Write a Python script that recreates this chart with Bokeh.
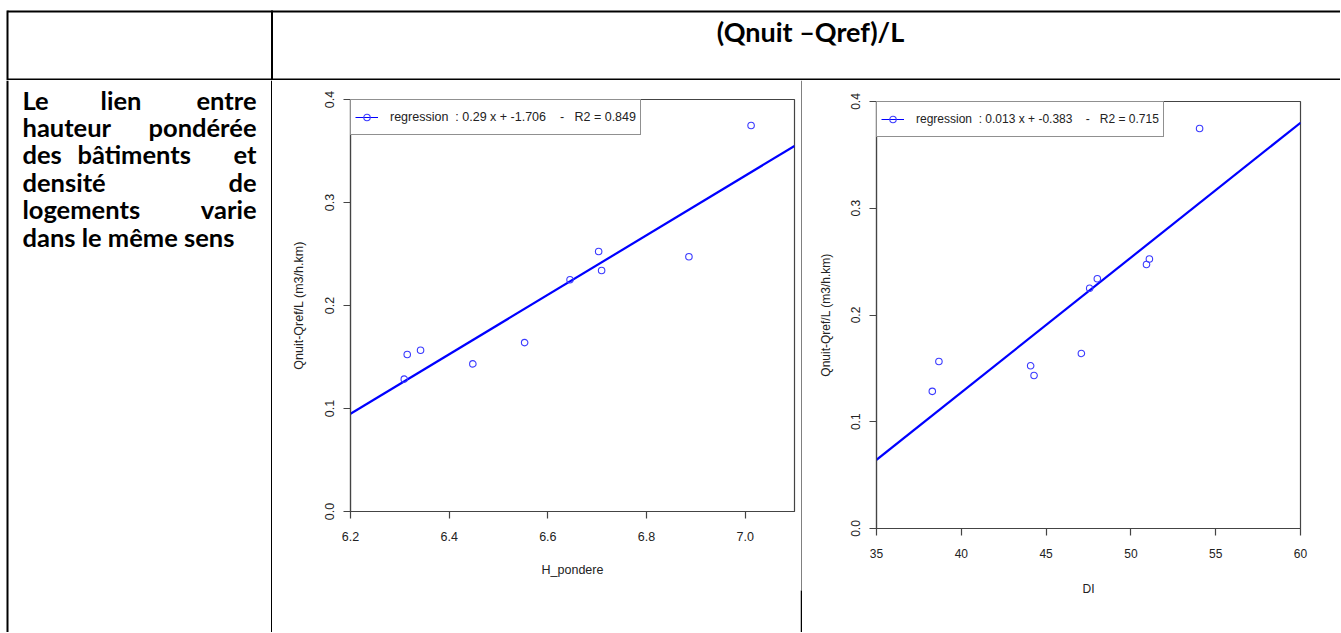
from bokeh.plotting import figure
from bokeh.layouts import row, column
from bokeh.models import Range1d, FixedTicker, PrintfTickFormatter, Legend, LegendItem
from bokeh.core.properties import value
from bokeh.embed import file_html
from bokeh.resources import INLINE

# ---------------- data ----------------
q_diff = [0.1285, 0.1524, 0.1565, 0.1433, 0.1640, 0.2250, 0.2525, 0.2340, 0.2473, 0.3747]
h_pondere = [6.309, 6.315, 6.342, 6.448, 6.553, 6.645, 6.703, 6.709, 6.886, 7.012]
di = [38.29, 44.09, 38.68, 44.29, 47.08, 47.57, 51.09, 48.02, 50.92, 54.05]

fit_h = {"slope": 0.289, "intercept": -1.697}
fit_di = {"slope": 0.01263, "intercept": -0.3777}

x_lim_h = (6.2, 7.1)
x_lim_di = (35, 60)
y_lim = (0.0, 0.4)

x_ticks_h = [6.2, 6.4, 6.6, 6.8, 7.0]
x_ticks_di = [35, 40, 45, 50, 55, 60]
y_ticks = [0.0, 0.1, 0.2, 0.3, 0.4]

legend_h = "regression  : 0.29 x + -1.706    -   R2 = 0.849"
legend_di = "regression  : 0.013 x + -0.383    -   R2 = 0.715"
x_title_h = "H_pondere"
x_title_di = "DI"
y_title = "Qnuit-Qref/L (m3/h.km)"
header_text = "(Qnuit \u2013Qref)/L"
row_label_lines = [["Le", "lien", "entre"], ["hauteur", "pondérée"],
                   ["des", "bâtiments", "et"], ["densité", "de"],
                   ["logements", "varie"], ["dans le même sens"]]

R_FONT = "Liberation Sans"
DOC_FONT = "Lato"
W, H = 1340, 632
HDR_H = 80


def keep_spaces(s):
    return s.replace("  ", " \u00a0")


def bare(p):
    p.grid.visible = False
    p.outline_line_color = None
    p.background_fill_color = "white"
    p.border_fill_color = "white"


def blank_fig(width, height, x0, x1, y0, y1):
    p = figure(width=width, height=height, x_range=Range1d(x0, x1), y_range=Range1d(y1, y0),
               output_backend="svg", toolbar_location=None, min_border=0,
               x_axis_location=None, y_axis_location=None)
    p.frame_align = False
    bare(p)
    return p


# ---------------- header row ----------------
hdr = blank_fig(W, HDR_H, 0, W, 0, HDR_H)
hdr.segment(x0=[7, 7], y0=[11, 79], x1=[W, W], y1=[11, 79], line_width=2, line_color="black")
hdr.segment(x0=[7, 271.5], y0=[10, 10], x1=[7, 271.5], y1=[HDR_H, HDR_H], line_width=2, line_color="black")
hdr.text(x=[810], y=[31], text=[header_text], text_align="center", text_baseline="alphabetic",
         text_font=value(DOC_FONT), text_font_style="bold", text_font_size="27px", text_color="black")

# ---------------- left text cell ----------------
txt = blank_fig(272, H - HDR_H, 0, 272, HDR_H, H)
txt.segment(x0=[7, 271.5], y0=[HDR_H, HDR_H], x1=[7, 271.5], y1=[H, H], line_width=2, line_color="black")

middle_pos = {"lien": 120.5, "bâtiments": 133.7}
wx, wy, wt, wa = [], [], [], []
for i, words in enumerate(row_label_lines):
    base = 99 + i * 27.4
    last_line = i == len(row_label_lines) - 1
    for j, w in enumerate(words):
        wt.append(w)
        wy.append(base)
        if j == 0:
            wx.append(22); wa.append("left")
        elif j == len(words) - 1 and not last_line:
            wx.append(256); wa.append("right")
        else:
            wx.append(middle_pos[w]); wa.append("center")
txt.text(x=wx, y=wy, text=wt, text_align=wa, text_baseline="alphabetic",
         text_font=value(DOC_FONT), text_font_style="bold", text_font_size="25.5px", text_color="black")


# ---------------- scatter plots ----------------
def scatter_plot(width, xs, xlim, xticks, xfmt, fit, label, xtitle, borders,
                 lab_standoff, title_standoff, fsize):
    p = figure(width=width, height=H - HDR_H, x_range=Range1d(*xlim), y_range=Range1d(*y_lim),
               output_backend="svg", toolbar_location=None,
               min_border_left=borders[0], min_border_right=borders[1],
               min_border_top=borders[2], min_border_bottom=borders[3])
    p.frame_align = False
    p.grid.visible = False
    p.outline_line_color = "#444444"
    p.outline_line_width = 1.2
    p.xaxis.ticker = FixedTicker(ticks=xticks)
    p.yaxis.ticker = FixedTicker(ticks=y_ticks)
    p.xaxis.formatter = PrintfTickFormatter(format=xfmt)
    p.yaxis.formatter = PrintfTickFormatter(format="%.1f")
    p.xaxis.axis_label = xtitle
    p.yaxis.axis_label = y_title
    for ax in (p.xaxis[0], p.yaxis[0]):
        ax.axis_line_color = "#444444"
        ax.axis_line_width = 1.2
        ax.major_tick_line_color = "#444444"
        ax.major_tick_line_width = 1.2
        ax.major_tick_out = 7
        ax.major_tick_in = 0
        ax.minor_tick_line_color = None
        ax.major_label_text_font = R_FONT
        ax.major_label_text_font_size = fsize
        ax.major_label_text_color = "#222222"
        ax.axis_label_text_font = R_FONT
        ax.axis_label_text_font_size = fsize
        ax.axis_label_text_font_style = "normal"
        ax.axis_label_text_color = "#222222"
    p.xaxis.major_label_standoff = lab_standoff[0]
    p.yaxis.major_label_standoff = lab_standoff[1]
    p.xaxis.axis_label_standoff = title_standoff[0]
    p.yaxis.axis_label_standoff = title_standoff[1]
    p.yaxis.major_label_orientation = "parallel"

    x0, x1 = xlim
    fit_x = [x0, x1]
    fit_y = [fit["slope"] * x0 + fit["intercept"], fit["slope"] * x1 + fit["intercept"]]
    leg_line = p.line(fit_x, fit_y, line_color="blue", line_width=1)
    p.line(fit_x, fit_y, line_color="blue", line_width=2.2)
    pts = p.scatter(xs, q_diff, marker="circle", size=6.5, fill_color=None,
                    line_color="#3b3bff", line_width=1.1)

    legend = Legend(items=[LegendItem(label=keep_spaces(label), renderers=[leg_line, pts])],
                    location="top_left", margin=0, padding=4, spacing=0,
                    glyph_width=23, glyph_height=16, label_height=26, label_standoff=12,
                    label_text_font=R_FONT, label_text_font_size=fsize,
                    label_text_color="#222222", label_text_baseline="middle",
                    border_line_color="#222222", border_line_width=1,
                    background_fill_color="white", background_fill_alpha=1)
    p.add_layout(legend)
    return p


p1 = scatter_plot(528, h_pondere, x_lim_h, x_ticks_h, "%.1f", fit_h, legend_h, x_title_h,
                  (78, 6, 19, 121), (13, 10), (19, 16), "12.5px")
p2 = scatter_plot(W - 802, di, x_lim_di, x_ticks_di, "%d", fit_di, legend_di, x_title_di,
                  (74, 40, 21, 104), (13, 10), (21, 15), "12px")

# thin separator between the two plot images
sep = blank_fig(2, H - HDR_H, 800, 802, HDR_H, H)
sep.segment(x0=[801.5], y0=[HDR_H], x1=[801.5], y1=[590], line_width=1, line_color="black")
sep.segment(x0=[801], y0=[590], x1=[801], y1=[H], line_width=2, line_color="black")

page = column(hdr, row(txt, p1, sep, p2, spacing=0), spacing=0)

open("out.html", "w").write(file_html(page, INLINE))
